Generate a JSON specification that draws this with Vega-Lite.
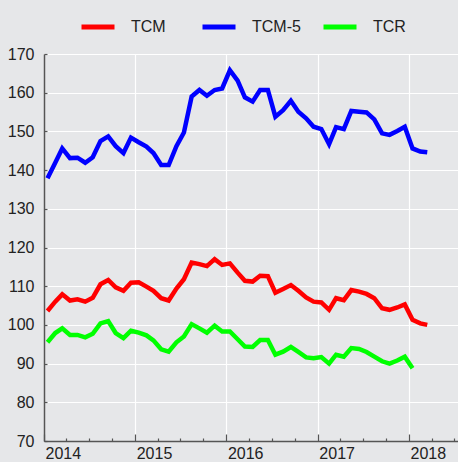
{
  "$schema": "https://vega.github.io/schema/vega-lite/v6.json",
  "width": 414,
  "height": 387,
  "autosize": {"type": "none"},
  "padding": {"left": 44, "top": 54, "right": 0, "bottom": 21},
  "background": "#e6e7e9",
  "config": {"view": {"stroke": null, "fill": "#e6e7e9"}, "font": "Liberation Sans"},
  "data": {"values": [
    {"d":"2014-01-15","s":"TCM","v":103.6},{"d":"2014-02-15","s":"TCM","v":106.0},{"d":"2014-03-15","s":"TCM","v":107.9},{"d":"2014-04-15","s":"TCM","v":106.3},{"d":"2014-05-15","s":"TCM","v":106.6},{"d":"2014-06-15","s":"TCM","v":106.0},{"d":"2014-07-15","s":"TCM","v":107.0},{"d":"2014-08-15","s":"TCM","v":110.5},{"d":"2014-09-15","s":"TCM","v":111.6},{"d":"2014-10-15","s":"TCM","v":109.7},{"d":"2014-11-15","s":"TCM","v":108.8},{"d":"2014-12-15","s":"TCM","v":110.9},
    {"d":"2015-01-15","s":"TCM","v":111.0},{"d":"2015-02-15","s":"TCM","v":109.9},{"d":"2015-03-15","s":"TCM","v":108.8},{"d":"2015-04-15","s":"TCM","v":106.9},{"d":"2015-05-15","s":"TCM","v":106.3},{"d":"2015-06-15","s":"TCM","v":109.4},{"d":"2015-07-15","s":"TCM","v":111.8},{"d":"2015-08-15","s":"TCM","v":116.1},{"d":"2015-09-15","s":"TCM","v":115.7},{"d":"2015-10-15","s":"TCM","v":115.2},{"d":"2015-11-15","s":"TCM","v":117.0},{"d":"2015-12-15","s":"TCM","v":115.5},
    {"d":"2016-01-15","s":"TCM","v":115.9},{"d":"2016-02-15","s":"TCM","v":113.5},{"d":"2016-03-15","s":"TCM","v":111.4},{"d":"2016-04-15","s":"TCM","v":111.2},{"d":"2016-05-15","s":"TCM","v":112.7},{"d":"2016-06-15","s":"TCM","v":112.6},{"d":"2016-07-15","s":"TCM","v":108.3},{"d":"2016-08-15","s":"TCM","v":109.3},{"d":"2016-09-15","s":"TCM","v":110.3},{"d":"2016-10-15","s":"TCM","v":108.8},{"d":"2016-11-15","s":"TCM","v":107.1},{"d":"2016-12-15","s":"TCM","v":106.0},
    {"d":"2017-01-15","s":"TCM","v":105.8},{"d":"2017-02-15","s":"TCM","v":103.9},{"d":"2017-03-15","s":"TCM","v":106.9},{"d":"2017-04-15","s":"TCM","v":106.4},{"d":"2017-05-15","s":"TCM","v":109.0},{"d":"2017-06-15","s":"TCM","v":108.6},{"d":"2017-07-15","s":"TCM","v":108.0},{"d":"2017-08-15","s":"TCM","v":106.9},{"d":"2017-09-15","s":"TCM","v":104.3},{"d":"2017-10-15","s":"TCM","v":103.9},{"d":"2017-11-15","s":"TCM","v":104.5},{"d":"2017-12-15","s":"TCM","v":105.3},
    {"d":"2018-01-15","s":"TCM","v":101.3},{"d":"2018-02-15","s":"TCM","v":100.4},{"d":"2018-03-15","s":"TCM","v":100.0},
    {"d":"2014-01-15","s":"TCM-5","v":137.9},{"d":"2014-02-15","s":"TCM-5","v":141.9},{"d":"2014-03-15","s":"TCM-5","v":145.6},{"d":"2014-04-15","s":"TCM-5","v":143.1},{"d":"2014-05-15","s":"TCM-5","v":143.2},{"d":"2014-06-15","s":"TCM-5","v":141.9},{"d":"2014-07-15","s":"TCM-5","v":143.3},{"d":"2014-08-15","s":"TCM-5","v":147.5},{"d":"2014-09-15","s":"TCM-5","v":148.7},{"d":"2014-10-15","s":"TCM-5","v":146.2},{"d":"2014-11-15","s":"TCM-5","v":144.4},{"d":"2014-12-15","s":"TCM-5","v":148.4},
    {"d":"2015-01-15","s":"TCM-5","v":147.2},{"d":"2015-02-15","s":"TCM-5","v":146.1},{"d":"2015-03-15","s":"TCM-5","v":144.4},{"d":"2015-04-15","s":"TCM-5","v":141.3},{"d":"2015-05-15","s":"TCM-5","v":141.3},{"d":"2015-06-15","s":"TCM-5","v":146.2},{"d":"2015-07-15","s":"TCM-5","v":149.7},{"d":"2015-08-15","s":"TCM-5","v":159.0},{"d":"2015-09-15","s":"TCM-5","v":160.7},{"d":"2015-10-15","s":"TCM-5","v":159.2},{"d":"2015-11-15","s":"TCM-5","v":160.7},{"d":"2015-12-15","s":"TCM-5","v":161.1},
    {"d":"2016-01-15","s":"TCM-5","v":165.8},{"d":"2016-02-15","s":"TCM-5","v":163.1},{"d":"2016-03-15","s":"TCM-5","v":158.8},{"d":"2016-04-15","s":"TCM-5","v":157.7},{"d":"2016-05-15","s":"TCM-5","v":160.7},{"d":"2016-06-15","s":"TCM-5","v":160.7},{"d":"2016-07-15","s":"TCM-5","v":153.8},{"d":"2016-08-15","s":"TCM-5","v":155.5},{"d":"2016-09-15","s":"TCM-5","v":157.9},{"d":"2016-10-15","s":"TCM-5","v":155.1},{"d":"2016-11-15","s":"TCM-5","v":153.4},{"d":"2016-12-15","s":"TCM-5","v":151.2},
    {"d":"2017-01-15","s":"TCM-5","v":150.6},{"d":"2017-02-15","s":"TCM-5","v":146.7},{"d":"2017-03-15","s":"TCM-5","v":151.1},{"d":"2017-04-15","s":"TCM-5","v":150.6},{"d":"2017-05-15","s":"TCM-5","v":155.3},{"d":"2017-06-15","s":"TCM-5","v":155.1},{"d":"2017-07-15","s":"TCM-5","v":154.9},{"d":"2017-08-15","s":"TCM-5","v":153.1},{"d":"2017-09-15","s":"TCM-5","v":149.5},{"d":"2017-10-15","s":"TCM-5","v":149.1},{"d":"2017-11-15","s":"TCM-5","v":150.1},{"d":"2017-12-15","s":"TCM-5","v":151.2},
    {"d":"2018-01-15","s":"TCM-5","v":145.6},{"d":"2018-02-15","s":"TCM-5","v":144.8},{"d":"2018-03-15","s":"TCM-5","v":144.6},
    {"d":"2014-01-15","s":"TCR","v":95.5},{"d":"2014-02-15","s":"TCR","v":97.9},{"d":"2014-03-15","s":"TCR","v":99.1},{"d":"2014-04-15","s":"TCR","v":97.4},{"d":"2014-05-15","s":"TCR","v":97.4},{"d":"2014-06-15","s":"TCR","v":96.8},{"d":"2014-07-15","s":"TCR","v":97.7},{"d":"2014-08-15","s":"TCR","v":100.4},{"d":"2014-09-15","s":"TCR","v":101.0},{"d":"2014-10-15","s":"TCR","v":97.9},{"d":"2014-11-15","s":"TCR","v":96.6},{"d":"2014-12-15","s":"TCR","v":98.5},
    {"d":"2015-01-15","s":"TCR","v":98.0},{"d":"2015-02-15","s":"TCR","v":97.3},{"d":"2015-03-15","s":"TCR","v":96.0},{"d":"2015-04-15","s":"TCR","v":93.7},{"d":"2015-05-15","s":"TCR","v":93.1},{"d":"2015-06-15","s":"TCR","v":95.5},{"d":"2015-07-15","s":"TCR","v":97.0},{"d":"2015-08-15","s":"TCR","v":100.2},{"d":"2015-09-15","s":"TCR","v":99.1},{"d":"2015-10-15","s":"TCR","v":98.0},{"d":"2015-11-15","s":"TCR","v":99.8},{"d":"2015-12-15","s":"TCR","v":98.3},
    {"d":"2016-01-15","s":"TCR","v":98.3},{"d":"2016-02-15","s":"TCR","v":96.3},{"d":"2016-03-15","s":"TCR","v":94.4},{"d":"2016-04-15","s":"TCR","v":94.3},{"d":"2016-05-15","s":"TCR","v":96.1},{"d":"2016-06-15","s":"TCR","v":96.1},{"d":"2016-07-15","s":"TCR","v":92.3},{"d":"2016-08-15","s":"TCR","v":93.1},{"d":"2016-09-15","s":"TCR","v":94.3},{"d":"2016-10-15","s":"TCR","v":93.0},{"d":"2016-11-15","s":"TCR","v":91.6},{"d":"2016-12-15","s":"TCR","v":91.4},
    {"d":"2017-01-15","s":"TCR","v":91.7},{"d":"2017-02-15","s":"TCR","v":90.0},{"d":"2017-03-15","s":"TCR","v":92.3},{"d":"2017-04-15","s":"TCR","v":91.8},{"d":"2017-05-15","s":"TCR","v":94.0},{"d":"2017-06-15","s":"TCR","v":93.8},{"d":"2017-07-15","s":"TCR","v":93.0},{"d":"2017-08-15","s":"TCR","v":91.8},{"d":"2017-09-15","s":"TCR","v":90.6},{"d":"2017-10-15","s":"TCR","v":90.0},{"d":"2017-11-15","s":"TCR","v":90.8},{"d":"2017-12-15","s":"TCR","v":91.8},
    {"d":"2018-01-15","s":"TCR","v":88.8}
  ]},
  "mark": {"type": "line", "strokeWidth": 4.5, "strokeJoin": "miter", "clip": true},
  "encoding": {
    "x": {
      "field": "d", "type": "temporal",
      "scale": {"type": "utc", "nice": false, "domain": [{"year": 2014, "month": 1, "date": 1, "utc": true}, {"year": 2018, "month": 7, "date": 16, "utc": true}]},
      "axis": {
        "title": null,
        "tickCount": {"interval": "month", "step": 3},
        "labelExpr": "utcmonth(datum.value) === 0 ? utcFormat(datum.value, '%Y') : ''",
        "labelAlign": "left",
        "labelBaseline": "top",
        "labelOffset": 1,
        "labelPadding": 11,
        "labelFlush": false,
        "labelOverlap": false,
        "labelFontSize": 16,
        "labelColor": "#222222",
        "labelFont": "Liberation Sans",
        "grid": true,
        "gridColor": "#ffffff",
        "gridWidth": 1.2,
        "gridOpacity": {"condition": {"test": "utcmonth(datum.value) === 0", "value": 1}, "value": 0},
        "ticks": true,
        "tickSize": {"condition": {"test": "utcmonth(datum.value) === 0", "value": -7}, "value": -3},
        "tickColor": "#555555",
        "tickWidth": 1.2,
        "domainColor": "#555555",
        "domainWidth": 1.5
      }
    },
    "y": {
      "field": "v", "type": "quantitative",
      "scale": {"domain": [70, 170], "nice": false, "zero": false},
      "axis": {
        "title": null,
        "values": [70, 80, 90, 100, 110, 120, 130, 140, 150, 160, 170],
        "labelFontSize": 16,
        "labelColor": "#222222",
        "labelFont": "Liberation Sans",
        "labelPadding": 13,
        "tickSize": -3,
        "tickColor": "#555555",
        "tickWidth": 1.2,
        "grid": true,
        "gridColor": "#ffffff",
        "gridWidth": 1.2,
        "domainColor": "#555555",
        "domainWidth": 1.5
      }
    },
    "color": {
      "field": "s", "type": "nominal",
      "scale": {"domain": ["TCM", "TCM-5", "TCR"], "range": ["#ff0000", "#0000ff", "#00ff00"]},
      "legend": {
        "title": null,
        "orient": "none",
        "direction": "horizontal",
        "legendX": 35,
        "legendY": -46,
        "symbolType": "stroke",
        "symbolSize": 1089,
        "symbolStrokeWidth": 5,
        "labelFontSize": 16,
        "labelFont": "Liberation Sans",
        "labelColor": "#222222",
        "labelOffset": 14,
        "columnPadding": 12,
        "gridAlign": "all",
        "padding": 0
      }
    }
  }
}
